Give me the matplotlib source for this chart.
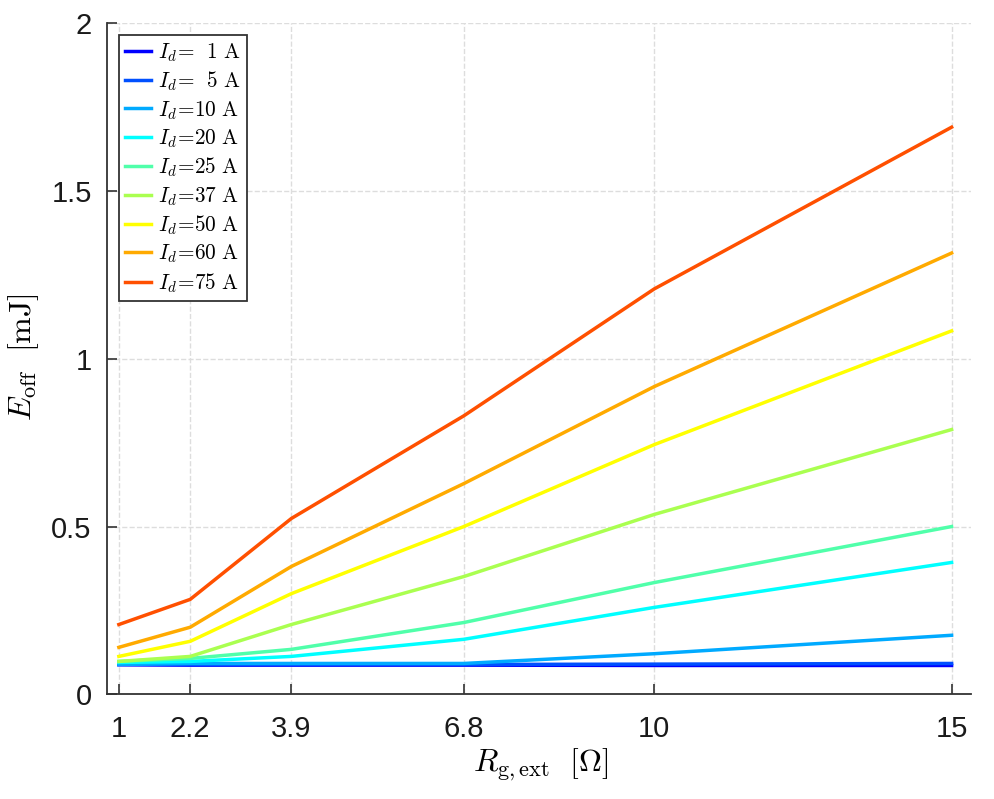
import numpy as np
import matplotlib.pyplot as plt

plt.rcParams['mathtext.fontset'] = 'cm'
plt.rcParams['font.family'] = ['Liberation Sans', 'DejaVu Sans']

# data
rg = [1, 2.2, 3.9, 6.8, 10, 15]
currents = [1, 5, 10, 20, 25, 37, 50, 60, 75]
e_off = [
    [0.088, 0.087, 0.087, 0.087, 0.086, 0.086],
    [0.090, 0.089, 0.089, 0.089, 0.090, 0.092],
    [0.089, 0.092, 0.092, 0.092, 0.121, 0.176],
    [0.095, 0.098, 0.113, 0.164, 0.259, 0.393],
    [0.098, 0.107, 0.134, 0.214, 0.333, 0.500],
    [0.098, 0.113, 0.208, 0.351, 0.536, 0.789],
    [0.113, 0.158, 0.300, 0.500, 0.744, 1.083],
    [0.140, 0.200, 0.381, 0.628, 0.917, 1.315],
    [0.208, 0.283, 0.524, 0.830, 1.208, 1.690],
]
colors = ['#0000FF', '#0050FF', '#00AAFF', '#00FFFF', '#50FFAA',
          '#AAFF50', '#FFFF00', '#FFAA00', '#FF5000']

#plot
fig = plt.figure(figsize=(9.95, 7.99), dpi=100)
ax = fig.add_axes([0.1075, 0.131, 0.868, 0.840])

for cur, vals, c in zip(currents, e_off, colors):
    lab = r'$I_d\!=\!%s\ \mathrm{A}$' % (r'\ \ ' + str(cur) if cur < 10 else str(cur))
    ax.plot(rg, vals, color=c, lw=2.5, label=lab)

ax.set_xlim(0.8, 15.32)
ax.set_ylim(0, 2)
ax.set_xticks(rg)
ax.set_xticklabels(['1', '2.2', '3.9', '6.8', '10', '15'])
ax.set_yticks([0, 0.5, 1, 1.5, 2])
ax.set_yticklabels(['0', '0.5', '1', '1.5', '2'])
ax.tick_params(direction='in', length=7, width=1.2, labelsize=21, colors='#333333',
               labelcolor='#1a1a1a')
ax.tick_params(axis='x', pad=15)
ax.tick_params(axis='y', pad=11)
ax.grid(True, ls='--', color='#dddddd', lw=1)
for s in ['top', 'right']:
    ax.spines[s].set_visible(False)
for s in ['left', 'bottom']:
    ax.spines[s].set_color('#333333')
    ax.spines[s].set_linewidth(1.3)

ax.set_xlabel(r'$R_{\mathrm{g,ext}}\ \ [\Omega]$', fontsize=23)
ax.set_ylabel(r'$E_{\mathrm{off}}\ \ [\mathrm{mJ}]$', fontsize=23)
ax.xaxis.set_label_coords(0.502, -0.078)
ax.yaxis.set_label_coords(-0.076, 0.502)

leg = ax.legend(loc='upper left', fontsize=15.3, handlelength=1.2, handletextpad=0.35,
                labelspacing=0.27, borderpad=0.3, fancybox=False, framealpha=1,
                edgecolor='#333333', borderaxespad=0.55)
leg.get_frame().set_linewidth(1.3)

plt.savefig('out.png', dpi=100)
